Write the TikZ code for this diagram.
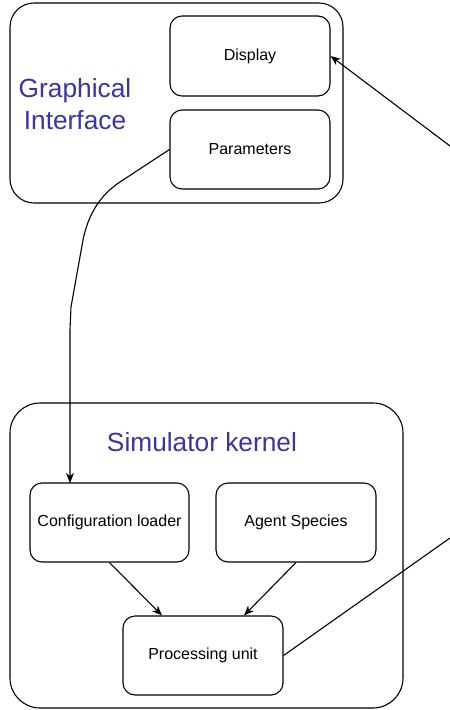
\documentclass[tikz,border=0pt]{standalone}
\usepackage{fontspec}
\setmainfont{Liberation Sans}
\usepackage{tikz}
\usetikzlibrary{arrows.meta}
\usetikzlibrary{positioning}
\definecolor{titleblue}{RGB}{57,52,160}

\begin{document}
\begin{tikzpicture}
		[x=1pt, y=-1pt,
		line width=1.1pt,
		> = {Stealth[length=10pt,width=8pt,inset=3pt]},
		group/.style = {draw, rectangle, rounded corners=24pt},
		block/.style = {draw, rectangle, rounded corners=12pt, minimum width=160pt, minimum height=80pt, font=\fontsize{16}{19}\selectfont},
		title/.style = {text=titleblue, align=center, font=\fontsize{26.3}{32}\selectfont}
		]
		\useasboundingbox (0,0) rectangle (450,710);

		% Graphical interface
		\node[group, minimum width=333pt, minimum height=200pt] (gui) at (176.5,103) {};
		\node[title] (guititle) at (75,104) {Graphical\\Interface};
		\node[block] (disp) at (250,56) {Display};
		\node[block, minimum height=79pt] (par) at (250,149.5) {Parameters};

		% Simulator kernel
		\node[group, rounded corners=30pt, minimum width=393pt, minimum height=305pt] (kernel) at (206.5,555.5) {};
		\node[title] (kerneltitle) at (202,442) {Simulator kernel};
		\node[block, minimum width=159pt, minimum height=79pt] (cfg) at (109.5,522.5) {Configuration loader};
		\node[block, minimum height=79pt] (agent) at (296,522.5) {Agent Species};
		\node[block, minimum height=79pt] (proc) at (203,655.5) {Processing unit};

		\coordinate (cfgin) at (70,483);
		\coordinate (outA) at (450,538);
		\coordinate (outB) at (450,146);

		% connectors
		\draw[->] (par.west) -- (120,182) .. controls (100,195) and (88,215) .. (83,240) -- (71,307) -- (70,330) -- (cfgin);
		\draw[->] (cfg.south) -- ([xshift=-41pt]proc.north);
		\draw[->] (agent.south) -- ([xshift=41pt]proc.north);
		\draw (proc.east) -- (outA);
		\draw[->] (outB) -- (disp.east);
	\end{tikzpicture}
\end{document}
